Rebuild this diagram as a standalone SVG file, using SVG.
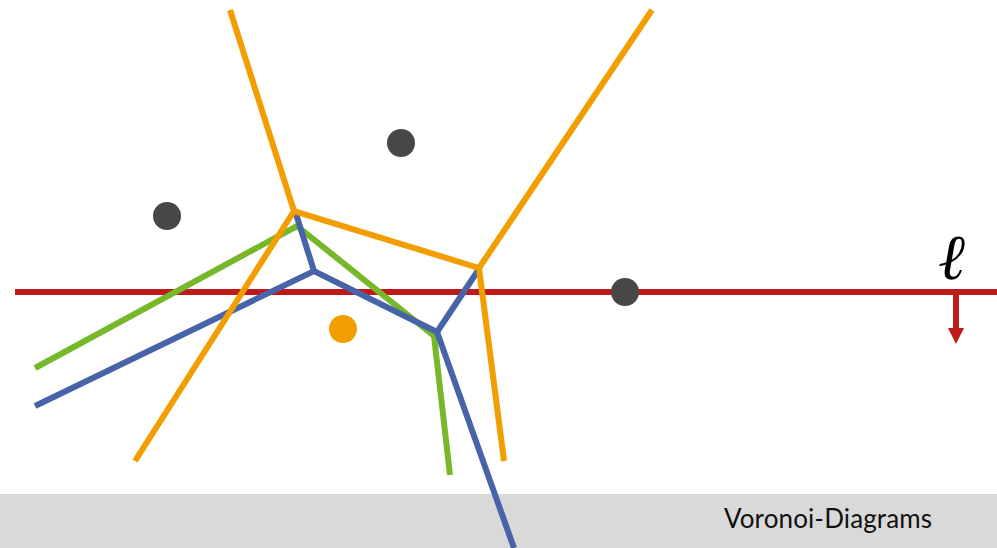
<svg xmlns="http://www.w3.org/2000/svg" width="997" height="548" viewBox="0 0 997 548">
<defs>
<style>
.ln{fill:none;stroke-width:6;stroke-linecap:butt;stroke-linejoin:miter}
.or{stroke:#F29D00}
.gr{stroke:#76B82A}
.bl{stroke:#4864A8}
.rd{stroke:#BE1A1A}
.site{fill:#474747}
</style>
<marker id="ah" viewBox="0 0 10 10" refX="2" refY="5" markerWidth="2.7" markerHeight="2.7" orient="auto" markerUnits="strokeWidth">
<path d="M0,0 L10,5 L0,10 z" fill="#BE1A1A"/>
</marker>
</defs>
<rect width="997" height="548" fill="#fff"/>
<rect id="footer" x="0" y="494" width="997" height="54" fill="#D9D9D9"/>
<text x="724" y="528" font-family="Lato, 'Open Sans', sans-serif" font-size="26" fill="#111" textLength="208">Voronoi-Diagrams</text>
<g id="sweepline">
<line class="ln rd" x1="15" y1="292" x2="997" y2="292"/>
<line class="ln rd" x1="956" y1="292" x2="956" y2="331" marker-end="url(#ah)"/>
<text x="938" y="279" font-family="'Liberation Serif', 'DejaVu Serif', serif" font-style="italic" font-size="64" fill="#000">ℓ</text>
</g>
<g id="connectors">
<polyline class="ln gr" points="35,368 297,226 434,336 450,475"/>
<polyline class="ln bl" points="35,406 314,271 437,332 514,548"/>
<line class="ln bl" x1="296" y1="214" x2="314" y2="271"/>
<line class="ln bl" x1="437" y1="332" x2="479" y2="269"/>
<polyline class="ln or" points="230,10 294,211 479,268 652,10"/>
<line class="ln or" x1="294" y1="211" x2="135" y2="461"/>
<line class="ln or" x1="479" y1="268" x2="504" y2="461"/>
</g>
<g id="sites">
<circle id="s1" class="site" cx="167" cy="216" r="14"/>
<circle id="s2" class="site" cx="401" cy="143" r="14"/>
<circle id="s3" class="site" cx="625" cy="292" r="14"/>
<circle id="s4" cx="343" cy="329" r="14" fill="#F29D00"/>
</g>
</svg>
